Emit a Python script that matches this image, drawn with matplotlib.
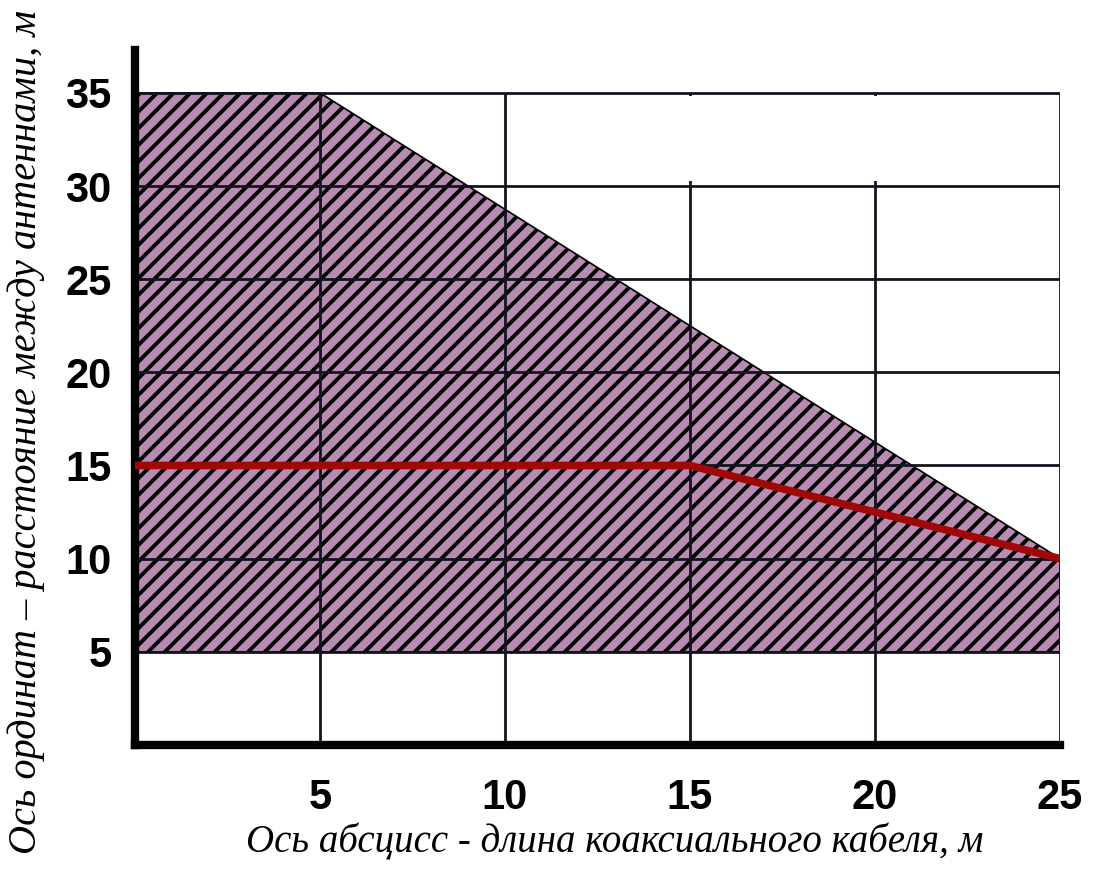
import matplotlib
matplotlib.use("Agg")
import matplotlib.pyplot as plt
from matplotlib.patches import Rectangle

# shaded zone (cable length, distance)
zone_x = [0, 0, 5, 25, 25]
zone_y = [5, 35, 35, 10, 5]

# red curve
line_x = [0, 15, 25]
line_y = [15, 15, 10]

x_ticks = [5, 10, 15, 20, 25]
y_ticks = [5, 10, 15, 20, 25, 30, 35]

plt.rcParams['hatch.linewidth'] = 2.8
plt.rcParams['hatch.color'] = 'black'

fig = plt.figure(figsize=(10.97, 8.71), dpi=100)
ax = fig.add_axes([0.123, 0.1447, 0.8433, 0.7979])
ax.set_xlim(0, 25)
ax.set_ylim(0, 37.3)

ax.fill(zone_x, zone_y, facecolor='#b88bb3', edgecolor='black',
        hatch='//', linewidth=1.2, zorder=1)

# grid lines, as drawn in the original (on top of the zone)
grid_kw = dict(color='#14141f', linewidth=2.0, zorder=2)
ax.hlines(y_ticks, 0, 25, **grid_kw)
ax.vlines(x_ticks, 0, 35, **grid_kw)
# empty top-right block has no inner grid
ax.add_patch(Rectangle((10.06, 30.25), 14.88, 4.6, facecolor='white',
                       edgecolor='none', zorder=3))

ax.plot(line_x, line_y, color='#a00808', linewidth=5.5, zorder=4,
        solid_capstyle='butt')

for s in ['top', 'right']:
    ax.spines[s].set_visible(False)
ax.spines['left'].set_linewidth(6)
ax.spines['bottom'].set_linewidth(6)
ax.spines['bottom'].set_capstyle('projecting')

ax.set_xticks(x_ticks)
ax.set_yticks(y_ticks)
ax.tick_params(length=0)
ax.tick_params(axis='x', pad=24)
ax.tick_params(axis='y', pad=17)
for lab in ax.get_xticklabels() + ax.get_yticklabels():
    lab.set_fontfamily('Liberation Sans')
    lab.set_fontweight('bold')
    lab.set_fontsize(30)

ax.set_xlabel('Ось абсцисс - длина коаксиального кабеля, м',
              fontfamily='Liberation Serif', fontstyle='italic', fontsize=28,
              va='baseline')
ax.set_ylabel('Ось ординат – расстояние между антеннами, м',
              fontfamily='Liberation Serif', fontstyle='italic', fontsize=29)
ax.xaxis.set_label_coords(0.519, -0.155)
ax.yaxis.set_label_coords(-0.097, 0.45)

fig.savefig('out.png', dpi=100)
